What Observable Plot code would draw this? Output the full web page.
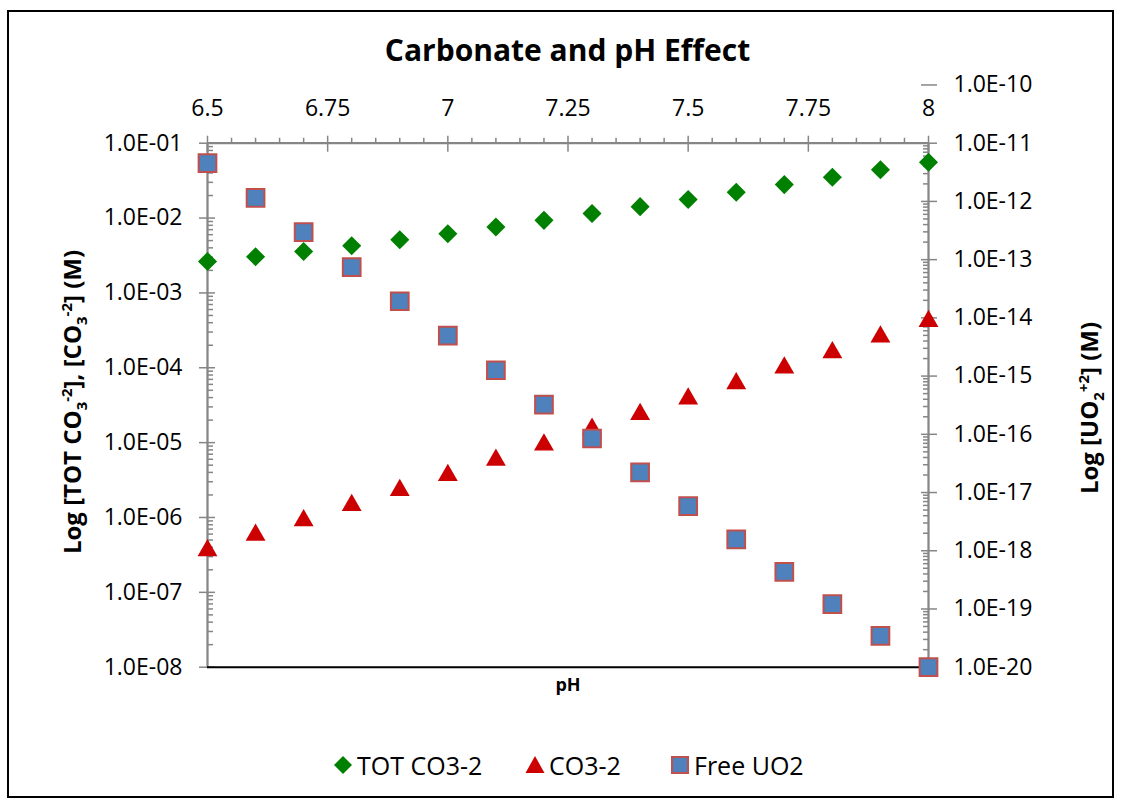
<!DOCTYPE html>
<html><head><meta charset="utf-8">
<script src="https://cdn.jsdelivr.net/npm/d3@7"></script>
<script src="https://cdn.jsdelivr.net/npm/@observablehq/plot@0.6"></script>
<style>
html,body{margin:0;padding:0;background:#fff;}
#wrap{position:relative;width:1121px;height:804px;overflow:hidden;font-family:"Open Sans",sans-serif;color:#000;}
#border{position:absolute;left:7px;top:10px;width:1107px;height:788px;border:2px solid #000;box-sizing:border-box;}
#chart{position:absolute;left:0;top:0;}
#title{position:absolute;left:0;width:1135px;top:30px;text-align:center;font-weight:700;font-size:30px;line-height:40px;}
.ylab{position:absolute;white-space:nowrap;font-weight:700;font-size:24px;line-height:30px;transform:translate(-50%,-50%) rotate(-90deg);}
.ylab sub,.ylab sup{font-size:15px;line-height:0;}
#legend{position:absolute;top:745px;left:0;height:40px;font-size:25px;}
.li{position:absolute;top:0;display:flex;align-items:center;height:40px;white-space:nowrap;}
.li svg{margin-right:4px;}
</style></head>
<body>
<div id="wrap">
  <div id="border"></div>
  <div id="title">Carbonate and pH Effect</div>
  <div id="chart"></div>
  <div class="ylab" style="left:72px;top:402px;">Log [TOT CO<sub>3</sub><sup>-2</sup>], [CO<sub>3</sub><sup>-2</sup>] (M)</div>
  <div class="ylab" style="left:1089px;top:408px;">Log [UO<sub>2</sub><sup>+2</sup>] (M)</div>
  <div id="legend"></div>
</div>
<script>
// ---- data ----
const pH = [6.5, 6.6, 6.7, 6.8, 6.9, 7.0, 7.1, 7.2, 7.3, 7.4, 7.5, 7.6, 7.7, 7.8, 7.9, 8.0];
const totCO3 = [2.63e-3, 3.04e-3, 3.58e-3, 4.27e-3, 5.14e-3, 6.18e-3, 7.60e-3, 9.32e-3,
                1.15e-2, 1.42e-2, 1.77e-2, 2.21e-2, 2.80e-2, 3.51e-2, 4.41e-2, 5.57e-2];
const co3 = [3.91e-7, 6.28e-7, 9.85e-7, 1.57e-6, 2.50e-6, 3.97e-6, 6.33e-6, 1.01e-5,
             1.64e-5, 2.58e-5, 4.16e-5, 6.66e-5, 1.08e-4, 1.73e-4, 2.81e-4, 4.53e-4];
const freeUO2 = [4.54e-12, 1.15e-12, 2.97e-13, 7.46e-14, 1.93e-14, 4.96e-15, 1.26e-15, 3.24e-16,
                 8.47e-17, 2.21e-17, 5.86e-18, 1.57e-18, 4.32e-19, 1.21e-19, 3.46e-20, 1.0e-20];
const seriesNames = ["TOT CO3-2", "CO3-2", "Free UO2"];
const xTicks = [6.5, 6.75, 7, 7.25, 7.5, 7.75, 8];
const xTickLabels = ["6.5", "6.75", "7", "7.25", "7.5", "7.75", "8"];
const leftTicks = [1e-8, 1e-7, 1e-6, 1e-5, 1e-4, 1e-3, 1e-2, 1e-1];
const leftTickLabels = ["1.0E-08", "1.0E-07", "1.0E-06", "1.0E-05", "1.0E-04", "1.0E-03", "1.0E-02", "1.0E-01"];
const rightTicks = [1e-20, 1e-19, 1e-18, 1e-17, 1e-16, 1e-15, 1e-14, 1e-13, 1e-12, 1e-11, 1e-10];
const rightTickLabels = ["1.0E-20", "1.0E-19", "1.0E-18", "1.0E-17", "1.0E-16", "1.0E-15",
                         "1.0E-14", "1.0E-13", "1.0E-12", "1.0E-11", "1.0E-10"];

// ---- secondary axis mapping (right decades -> left scale) ----
const leftMin = -8, leftMax = -1;
const rightMin = -20, rightTopInFrame = -11;
const k = (leftMax - leftMin) / (rightTopInFrame - rightMin);
const toLeft = r => Math.pow(10, leftMin + (Math.log10(r) - rightMin) * k);

// minor ticks
const xMinor = d3.range(6.5, 8.0001, 0.05).map(v => +v.toFixed(2)).filter(v => !xTicks.includes(v));
const leftMinor = [];
for (let e = leftMin; e < leftMax; e++) for (let m = 2; m <= 9; m++) leftMinor.push(m * Math.pow(10, e));
const rightMinor = [];
for (let e = rightMin; e < rightTopInFrame; e++) for (let m = 2; m <= 9; m++) rightMinor.push(toLeft(m * Math.pow(10, e)));
const rightMajor = rightTicks.map(toLeft);
const rightLabelData = rightMajor.map((v, i) => ({v, label: rightTickLabels[i]}));
const leftLabelData = leftTicks.map((v, i) => ({v, label: leftTickLabels[i]}));
const xLabelData = xTicks.map((v, i) => ({v, label: xTickLabels[i]}));

const tot = pH.map((p, i) => ({p, v: totCO3[i]}));
const car = pH.map((p, i) => ({p, v: co3[i]}));
const uo2 = pH.map((p, i) => ({p, v: toLeft(freeUO2[i])}));

const gray = "#868686";
const font = "'Open Sans', sans-serif";

const plot = Plot.plot({
  width: 1121,
  height: 720,
  marginLeft: 207,
  marginRight: 193,
  marginTop: 142.7,
  marginBottom: 53.3,
  style: {fontFamily: font, background: "transparent", overflow: "visible"},
  x: {type: "linear", domain: [6.5, 8], label: null},
  y: {type: "log", domain: [1e-8, 1e-1], label: null},
  marks: [
    // frame lines
    Plot.ruleX([6.5, 8], {stroke: gray, strokeWidth: 2.25}),
    Plot.ruleY([1e-1], {stroke: gray, strokeWidth: 2.25}),
    // top axis
    Plot.axisX(xTicks, {anchor: "top", tickSize: 16, dy: 8, fill: "none", stroke: gray, strokeWidth: 1.5, label: null}),
    Plot.axisX(xMinor, {anchor: "top", tickSize: 6, fill: "none", stroke: gray, strokeWidth: 1.5, label: null}),
    Plot.text(xLabelData, {x: "v", text: "label", frameAnchor: "top", dy: -27, lineAnchor: "bottom",
      fontSize: 23, fill: "#000"}),
    // left axis
    Plot.axisY(leftTicks, {anchor: "left", tickSize: 16, dx: 8, fill: "none", stroke: gray, strokeWidth: 1.5, label: null}),
    Plot.axisY(leftMinor, {anchor: "left", tickSize: 6, dx: 6, fill: "none", stroke: gray, strokeWidth: 1.5, label: null}),
    Plot.text(leftLabelData, {y: "v", text: "label", frameAnchor: "left", dx: -25, textAnchor: "end",
      lineAnchor: "middle", fontSize: 23, fill: "#000"}),
    // right axis
    Plot.axisY(rightMajor, {anchor: "right", tickSize: 16, dx: -8, fill: "none", stroke: gray, strokeWidth: 1.5, label: null}),
    Plot.axisY(rightMinor, {anchor: "right", tickSize: 6, dx: -6, fill: "none", stroke: gray, strokeWidth: 1.5, label: null}),
    Plot.text(rightLabelData, {y: "v", text: "label", frameAnchor: "right", dx: 25, textAnchor: "start",
      lineAnchor: "middle", fontSize: 23, fill: "#000"}),
    // bottom line
    Plot.ruleY([1e-8], {stroke: "#000", strokeWidth: 2}),
    // x title
    Plot.text(["pH"], {frameAnchor: "bottom", dy: 24, fontWeight: "bold", fontSize: 18, fill: "#000"}),
    // series
    Plot.dot(tot, {x: "p", y: "v", symbol: "diamond2", r: 8.6, fill: "#008000", stroke: "none"}),
    Plot.dot(car, {x: "p", y: "v", symbol: "triangle2", r: 9.5, fill: "#CC0000", stroke: "none", dy: 2.5}),
    Plot.dot(uo2, {x: "p", y: "v", symbol: "square", r: 10, fill: "#4F81BD", stroke: "#C0504D", strokeWidth: 2})
  ]
});
document.getElementById("chart").appendChild(plot);

// legend
const legendItems = [
  {name: seriesNames[0], left: 333, shape: '<polygon points="10,1 19,10 10,19 1,10" fill="#008000"/>'},
  {name: seriesNames[1], left: 525, shape: '<polygon points="10,1 19.5,18 0.5,18" fill="#CC0000"/>'},
  {name: seriesNames[2], left: 670, shape: '<rect x="2" y="2" width="16" height="16" fill="#4F81BD" stroke="#C0504D" stroke-width="2"/>'}
];
const lg = document.getElementById("legend");
legendItems.forEach(it => {
  const d = document.createElement("div");
  d.className = "li";
  d.style.left = it.left + "px";
  d.innerHTML = `<svg width="20" height="20" viewBox="0 0 20 20">${it.shape}</svg><span>${it.name}</span>`;
  lg.appendChild(d);
});
</script>
</body></html>
